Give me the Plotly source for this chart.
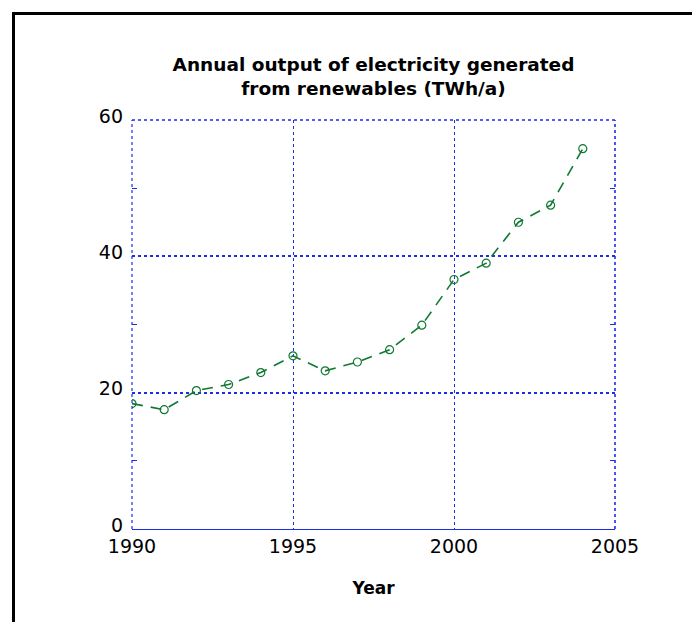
import plotly.graph_objects as go

years = [1990, 1991, 1992, 1993, 1994, 1995, 1996, 1997, 1998, 1999, 2000, 2001, 2002, 2003, 2004]
output_twh = [18.4, 17.5, 20.3, 21.2, 22.95, 25.4, 23.2, 24.5, 26.3, 29.9, 36.6, 39.0, 45.0, 47.5, 55.8]
x_ticks = [1990, 1995, 2000, 2005]
y_ticks = [0, 20, 40, 60]
y_minor_ticks = [10, 30, 50]

title_text = "<b>Annual output of electricity generated<br>from renewables (TWh/a)</b>"
x_title = "<b>Year</b>"

BLUE = "rgb(25,45,235)"
GREEN = "rgb(15,120,50)"
FONT = "DejaVu Sans"

# page body has an 8px margin; figure sized to fit the 700x622 window
W, H = 692, 614
L, R, T, B = 124, 85, 112, 93
pw, ph = W - L - R, H - T - B

def px_to_paper_x(px):
    return (px - L) / pw

def px_to_paper_y(py):
    return (H - B - py) / ph

fig = go.Figure()
fig.add_trace(go.Scatter(
    x=years, y=output_twh, mode="lines+markers",
    line=dict(color=GREEN, width=1.6, dash="11px,8px"),
    marker=dict(symbol="circle-open", size=8, color=GREEN, line=dict(width=1.2, color=GREEN)),
    showlegend=False,
))
# invisible trace for right axis ticks
fig.add_trace(go.Scatter(x=[years[0]], y=[output_twh[0]], yaxis="y2", mode="markers",
                         marker=dict(opacity=0), showlegend=False, hoverinfo="skip"))

fig.update_layout(
    width=W, height=H,
    margin=dict(l=L, r=R, t=T, b=B),
    paper_bgcolor="white", plot_bgcolor="white",
    font=dict(family=FONT, color="black"),
    title=dict(text=title_text, x=(L + pw / 2) / W, xanchor="center",
               y=1 - 63 / H, yanchor="middle", font=dict(size=18.5, family=FONT, color="black")),
    xaxis=dict(
        range=[1990, 2005], tickvals=x_ticks, ticktext=[str(v) for v in x_ticks],
        tickfont=dict(size=19), ticks="", showline=True, linecolor=BLUE, linewidth=1.2,
        showgrid=True, gridcolor=BLUE, gridwidth=1, griddash="dot", zeroline=False,
        title=dict(text=x_title, font=dict(size=17), standoff=26),
    ),
    yaxis=dict(
        range=[0, 60], tickvals=y_ticks, tickfont=dict(size=19),
        ticks="inside", ticklen=0, showline=False, ticklabelstandoff=8, ticklabelshift=-4,
        showgrid=True, gridcolor=BLUE, gridwidth=2, griddash="dot", zeroline=False,
        minor=dict(ticks="inside", tickvals=y_minor_ticks, ticklen=5, tickcolor=BLUE, tickwidth=1.2, showgrid=False),
    ),
    yaxis2=dict(
        range=[0, 60], overlaying="y", side="right", showticklabels=False, showgrid=False,
        zeroline=False, tickvals=y_ticks, ticks="",
        minor=dict(ticks="inside", tickvals=y_minor_ticks, ticklen=5, tickcolor=BLUE, tickwidth=1.2, showgrid=False),
    ),
)

# dotted border: left, right, top
fig.add_shape(type="line", xref="paper", yref="paper", x0=0, x1=0, y0=0, y1=1,
              line=dict(color=BLUE, width=1.2, dash="dot"))
fig.add_shape(type="line", xref="paper", yref="paper", x0=1, x1=1, y0=0, y1=1,
              line=dict(color=BLUE, width=1.6, dash="dot"))
fig.add_shape(type="line", xref="paper", yref="paper", x0=0, x1=1, y0=1, y1=1,
              line=dict(color=BLUE, width=1.6, dash="dot"))

# outer black frame
fig.add_shape(type="rect", xref="paper", yref="paper",
              x0=px_to_paper_x(5.5), x1=px_to_paper_x(720),
              y0=px_to_paper_y(640), y1=px_to_paper_y(5.5),
              line=dict(color="black", width=3), fillcolor="rgba(0,0,0,0)", layer="above")

fig.write_html("out.html")
